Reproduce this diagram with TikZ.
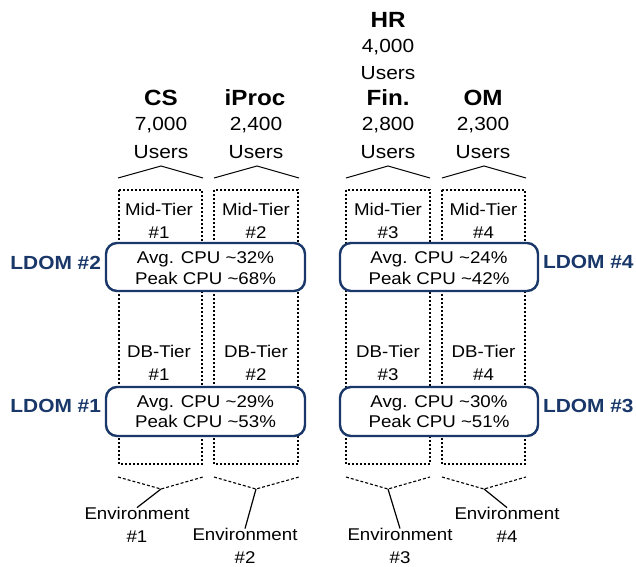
\documentclass[tikz,border=0pt]{standalone}
\usepackage{fontspec}
\setmainfont{Liberation Sans}[FakeStretch=1.1]
\definecolor{navy}{RGB}{25,55,105}
\begin{document}
\begin{tikzpicture}[x=1pt,y=-1pt,
  every node/.style={inner sep=0pt,outer sep=0pt},
  big/.style={font=\fontsize{19}{23}\selectfont},
  bigb/.style={font=\fontsize{22}{26}\selectfont\bfseries},
  small/.style={font=\fontsize{17}{22.5}\selectfont},
  boxtext/.style={font=\fontsize{17}{20.5}\selectfont,align=center},
  ldom/.style={font=\fontsize{19}{23}\selectfont\bfseries,text=navy},
  col/.style={draw,dash pattern=on 2pt off 2pt,line width=1.1pt},
  cpubox/.style={draw=navy,line width=2.4pt,fill=white,rounded corners=11pt},
  caret/.style={line width=1pt},
  dcaret/.style={line width=1.1pt,dash pattern=on 3pt off 2pt},
  pointer/.style={line width=1.2pt}]
\useasboundingbox (0,0) rectangle (636,566);

% top labels
\node[bigb] (hr) at (388,20) {HR};
\node[big] (hrn) at (388,47) {4,000};
\node[big] (hru) at (388,73) {Users};
\node[bigb] (cs) at (161,98) {CS};
\node[big] (csn) at (161,125) {7,000};
\node[big] (csu) at (161,152) {Users};
\node[bigb] (ip) at (255,98) {iProc};
\node[big] (ipn) at (256,125) {2,400};
\node[big] (ipu) at (256,152) {Users};
\node[bigb] (fin) at (388,98) {Fin.};
\node[big] (finn) at (388,125) {2,800};
\node[big] (finu) at (388,152) {Users};
\node[bigb] (om) at (483,98) {OM};
\node[big] (omn) at (483,125) {2,300};
\node[big] (omu) at (483,152) {Users};

% top carets
\coordinate (t1a) at (118,178); \coordinate (t1p) at (161,166); \coordinate (t1b) at (203,178);
\coordinate (t2a) at (214,178); \coordinate (t2p) at (257,166); \coordinate (t2b) at (299,178);
\coordinate (t3a) at (346,178); \coordinate (t3p) at (388,166); \coordinate (t3b) at (430,178);
\coordinate (t4a) at (442,178); \coordinate (t4p) at (484,166); \coordinate (t4b) at (526,178);
\draw[caret] (t1a) -- (t1p) -- (t1b);
\draw[caret] (t2a) -- (t2p) -- (t2b);
\draw[caret] (t3a) -- (t3p) -- (t3b);
\draw[caret] (t4a) -- (t4p) -- (t4b);

% dotted columns
\draw[col] (119,190) rectangle (202,464);
\draw[col] (214,190) rectangle (298,464);
\draw[col] (346,190) rectangle (430,464);
\draw[col] (442,190) rectangle (525,464);

% tier labels
\node[small,align=center] (m1) at (159,221) {Mid-Tier\\\#1};
\node[small,align=center] (m2) at (256,221) {Mid-Tier\\\#2};
\node[small,align=center] (m3) at (388,221) {Mid-Tier\\\#3};
\node[small,align=center] (m4) at (483.5,221) {Mid-Tier\\\#4};
\node[small,align=center] (d1) at (159,363) {DB-Tier\\\#1};
\node[small,align=center] (d2) at (256,363) {DB-Tier\\\#2};
\node[small,align=center] (d3) at (388,363) {DB-Tier\\\#3};
\node[small,align=center] (d4) at (483.5,363) {DB-Tier\\\#4};

% CPU boxes
\draw[cpubox] (106,243) rectangle (305,291);
\draw[cpubox] (340,243) rectangle (538,291);
\draw[cpubox] (106,387) rectangle (305,436);
\draw[cpubox] (340,387) rectangle (538,436);
\node[boxtext] (b2) at (205.5,268) {Avg. CPU \textasciitilde32\%\\Peak CPU \textasciitilde68\%};
\node[boxtext] (b4) at (439,268) {Avg. CPU \textasciitilde24\%\\Peak CPU \textasciitilde42\%};
\node[boxtext] (b1) at (205.5,411.5) {Avg. CPU \textasciitilde29\%\\Peak CPU \textasciitilde53\%};
\node[boxtext] (b3) at (439,411.5) {Avg. CPU \textasciitilde30\%\\Peak CPU \textasciitilde51\%};

% LDOM labels
\node[ldom,anchor=east] (l2) at (101,263) {LDOM \#2};
\node[ldom,anchor=east] (l1) at (101,406) {LDOM \#1};
\node[ldom,anchor=west] (l4) at (543,262) {LDOM \#4};
\node[ldom,anchor=west] (l3) at (543,406) {LDOM \#3};

% bottom dashed carets
\coordinate (u1a) at (118,477); \coordinate (u1p) at (161,489); \coordinate (u1b) at (203,477);
\coordinate (u2a) at (214,477); \coordinate (u2p) at (256,489); \coordinate (u2b) at (299,477);
\coordinate (u3a) at (346,477); \coordinate (u3p) at (388,489); \coordinate (u3b) at (430,477);
\coordinate (u4a) at (442,477); \coordinate (u4p) at (484,489); \coordinate (u4b) at (526,477);
\draw[dcaret] (u1a) -- (u1p) -- (u1b);
\draw[dcaret] (u2a) -- (u2p) -- (u2b);
\draw[dcaret] (u3a) -- (u3p) -- (u3b);
\draw[dcaret] (u4a) -- (u4p) -- (u4b);

% environments
\node[small,align=center] (e1) at (137,525) {Environment\\\#1};
\node[small,align=center] (e2) at (245,546) {Environment\\\#2};
\node[small,align=center] (e3) at (400,546) {Environment\\\#3};
\node[small,align=center] (e4) at (507,525) {Environment\\\#4};
\draw[pointer] (u1p) -- (e1.north);
\draw[pointer] (u2p) -- (e2.north);
\draw[pointer] (u3p) -- (e3.north);
\draw[pointer] (u4p) -- (e4.north);
\end{tikzpicture}
\end{document}
